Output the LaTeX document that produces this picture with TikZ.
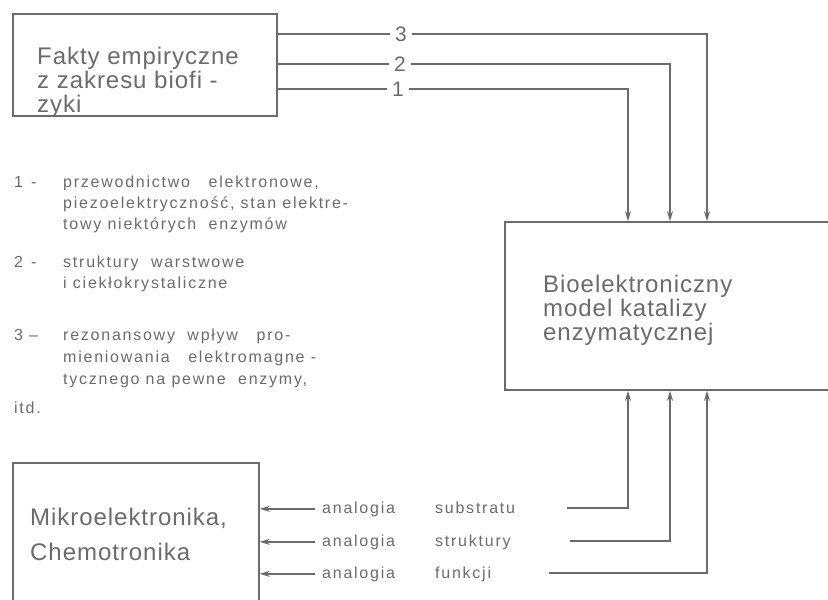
\documentclass[tikz,border=0pt]{standalone}
\usepackage{fontspec}
\setmainfont{Liberation Sans}
\usetikzlibrary{arrows.meta}
\definecolor{ink}{HTML}{6B6B6B}
\newcommand{\analogia}[1]{\makebox[113pt][l]{analogia}#1}

\begin{document}
\begin{tikzpicture}[x=1pt,y=-1pt,>={Stealth[length=10pt,width=6pt]},
    box/.style={draw=ink,line width=1.6pt,inner sep=0},
    boxtxt/.style={text=ink,font=\fontsize{24}{24}\selectfont\addfontfeature{LetterSpace=4},align=left,inner sep=0,anchor=base west},
    legtxt/.style={text=ink,font=\fontsize{16}{21}\selectfont\addfontfeature{LetterSpace=11},align=left,inner sep=0,anchor=base west},
    numtxt/.style={text=ink,font=\fontsize{21}{21}\selectfont,inner sep=5pt},
    flow/.style={draw=ink,line width=1.6pt}]
    \useasboundingbox (0,0) rectangle (828,600);
    \clip (0,0) rectangle (828,600);

    \node[box,minimum width=264,minimum height=102] (fakty) at (145,65) {};
    \node[boxtxt] (faktytxt) at (37,112) {Fakty empiryczne\\z zakresu biofi -\\zyki};
    \node[box,minimum width=395,minimum height=168] (bio) at (702.5,306) {};
    \node[boxtxt] (biotxt) at (543,340) {Bioelektroniczny\\model katalizy\\enzymatycznej};
    \node[box,minimum width=246,minimum height=177] (mikro) at (136,551.5) {};
    \node[boxtxt,font=\fontsize{24}{35}\selectfont\addfontfeature{LetterSpace=4}] (mikrotxt) at (30,560) {Mikroelektronika,\\Chemotronika};

    \node[numtxt] (n3) at (401,34) {3};
    \node[numtxt] (n2) at (400,64) {2};
    \node[numtxt] (n1) at (398,89) {1};
    \coordinate (v1) at (628,0);
    \coordinate (v2) at (670,0);
    \coordinate (v3) at (707,0);
    \draw[flow] (fakty.east |- n3) -- (n3);
    \draw[flow] (fakty.east |- n2) -- (n2);
    \draw[flow] (fakty.east |- n1) -- (n1);
    \draw[flow,->] (n3) -| (bio.north -| v3);
    \draw[flow,->] (n2) -| (bio.north -| v2);
    \draw[flow,->] (n1) -| (bio.north -| v1);

    \node[legtxt] (k1) at (14,187) {1\hspace{8pt}-};
    \node[legtxt] (leg1) at (63,229) {przewodnictwo \ \ elektronowe,\\piezoelektryczność, stan elektre-\\towy niektórych \ enzymów};
    \node[legtxt] (k2) at (14,267) {2\hspace{8pt}-};
    \node[legtxt] (leg2) at (63,288) {struktury \ warstwowe\\i ciekłokrystaliczne};
    \node[legtxt] (k3) at (14,340) {3\hspace{6pt}--};
    \node[legtxt,font=\fontsize{16}{22}\selectfont\addfontfeature{LetterSpace=11}] (leg3) at (63,384) {rezonansowy \ wpływ \ \ pro-\\mieniowania \ \ elektromagne -\\tycznego na pewne \ enzymy,};
    \node[legtxt] (itd) at (14,413) {itd.};

    \node[legtxt] (an1) at (322,513) {\analogia{substratu}};
    \node[legtxt] (an2) at (322,546) {\analogia{struktury}};
    \node[legtxt] (an3) at (322,578) {\analogia{funkcji}};
    \draw[flow,->] ([xshift=-7pt]an1.west) -- (an1.west -| mikro.east);
    \draw[flow,->] ([xshift=-7pt]an2.west) -- (an2.west -| mikro.east);
    \draw[flow,->] ([xshift=-7pt]an3.west) -- (an3.west -| mikro.east);
    \coordinate (s1) at (567,508);
    \coordinate (s2) at (570,541);
    \coordinate (s3) at (549,573);
    \draw[flow,->] (s1) -| (bio.south -| v1);
    \draw[flow,->] (s2) -| (bio.south -| v2);
    \draw[flow,->] (s3) -| (bio.south -| v3);
\end{tikzpicture}
\end{document}
